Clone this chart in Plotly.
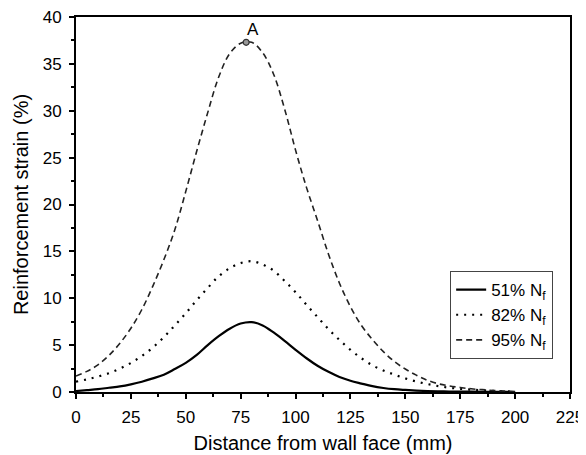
import plotly.graph_objects as go

distance = [0, 5, 10, 15, 20, 25, 30, 35, 40, 45, 50, 55, 60, 65, 70, 75, 80, 85, 90, 95,
            100, 105, 110, 115, 120, 125, 130, 135, 140, 145, 150, 155, 160, 165, 170, 175,
            180, 185, 190, 195, 200]

strain_51 = [0.1, 0.2, 0.3, 0.45, 0.6, 0.82, 1.1, 1.45, 1.85, 2.45, 3.1, 3.95, 5.0, 5.95, 6.75,
             7.3, 7.45, 7.1, 6.35, 5.45, 4.5, 3.6, 2.8, 2.15, 1.6, 1.2, 0.9, 0.62, 0.43, 0.3,
             0.22, 0.15, 0.1, 0.07, 0.05, 0.04, 0.03, 0.02, 0.01, 0.01, 0.0]

strain_82 = [1.1, 1.35, 1.65, 2.0, 2.5, 3.1, 3.85, 4.75, 5.85, 7.1, 8.4, 9.8, 11.1, 12.35, 13.2,
             13.75, 13.95, 13.6, 12.95, 11.85, 10.65, 9.3, 8.0, 6.7, 5.55, 4.5, 3.6, 2.85, 2.3,
             1.85, 1.45, 1.12, 0.85, 0.63, 0.46, 0.34, 0.25, 0.18, 0.12, 0.07, 0.04]

strain_95 = [1.7, 2.2, 2.9, 3.9, 5.2, 6.8, 8.8, 11.3, 14.1, 17.3, 21.4, 25.7, 29.8, 33.6, 36.1,
             37.2, 37.3, 36.2, 33.9, 30.2, 25.8, 21.8, 18.3, 14.7, 11.6, 9.1, 7.1, 5.6, 4.3,
             3.25, 2.45, 1.8, 1.25, 0.88, 0.65, 0.48, 0.34, 0.25, 0.16, 0.1, 0.06]

series_names = ["51% N<sub>f</sub>", "82% N<sub>f</sub>", "95% N<sub>f</sub>"]

point_a_x = [77.5]
point_a_y = [37.3]
point_a_label = "A"

x_ticks = [0, 25, 50, 75, 100, 125, 150, 175, 200, 225]
y_ticks = [0, 5, 10, 15, 20, 25, 30, 35, 40]

FONT = "Liberation Sans, Arial, sans-serif"

fig = go.Figure()
fig.add_trace(go.Scatter(x=distance, y=strain_51, mode="lines", name=series_names[0],
                         line=dict(color="black", width=2.2, shape="spline")))
fig.add_trace(go.Scatter(x=distance, y=strain_82, mode="lines", name=series_names[1],
                         line=dict(color="black", width=2.2, dash="2px,6px", shape="spline")))
fig.add_trace(go.Scatter(x=distance, y=strain_95, mode="lines", name=series_names[2],
                         line=dict(color="#222", width=1.6, dash="6px,4px", shape="spline")))
fig.add_trace(go.Scatter(x=point_a_x, y=point_a_y, mode="markers", showlegend=False,
                         marker=dict(symbol="circle", size=6, color="#999",
                                     line=dict(color="#333", width=1.2))))

fig.add_annotation(x=point_a_x[0] + 3, y=point_a_y[0] + 1.4, text=point_a_label,
                   showarrow=False, font=dict(size=17, color="black", family=FONT))

axis_common = dict(showline=True, linecolor="black", linewidth=2, mirror=True,
                   ticks="outside", ticklen=5, tickwidth=1.5, tickcolor="black",
                   showgrid=False, zeroline=False, automargin=False,
                   ticklabeloverflow="allow",
                   tickfont=dict(size=17, color="black", family=FONT))

fig.update_xaxes(range=[0, 225], tickvals=x_ticks,
                 title=dict(text="Distance from wall face (mm)", font=dict(size=20, color="black", family=FONT), standoff=10),
                 minor=dict(dtick=12.5, ticklen=3, tickwidth=1.5, tickcolor="black", ticks="outside"),
                 ticklabelstandoff=4,
                 **axis_common)
fig.update_yaxes(range=[0, 40], tickvals=y_ticks,
                 title=dict(text="Reinforcement strain (%)", font=dict(size=20, color="black", family=FONT), standoff=9),
                 minor=dict(dtick=2.5, ticklen=3, tickwidth=1.5, tickcolor="black", ticks="outside"),
                 ticklabelstandoff=4,
                 **axis_common)

# the page body adds an 8px offset, so the figure is sized to fit inside the window
fig.update_layout(
    width=578, height=447, autosize=False,
    margin=dict(l=68, r=16, t=9, b=63),
    paper_bgcolor="white", plot_bgcolor="white",
    font=dict(family=FONT, color="black"),
    legend=dict(x=0.757, y=0.323, xanchor="left", yanchor="top",
                bordercolor="#444", borderwidth=1.2, bgcolor="white",
                font=dict(size=17, color="black", family=FONT),
                tracegroupgap=0, itemwidth=30),
)

fig.write_html("out.html")
